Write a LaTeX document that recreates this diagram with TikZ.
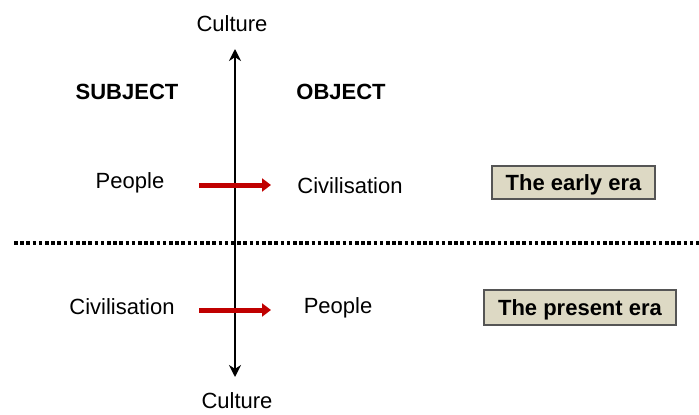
\documentclass[tikz,border=0pt]{standalone}
\usepackage{fontspec}
\setmainfont{Liberation Sans}
\usetikzlibrary{arrows.meta}
\definecolor{redarrow}{HTML}{C00000}
\definecolor{erafill}{HTML}{DDD9C4}
\definecolor{eradraw}{HTML}{555555}
\tikzset{
  lbl/.style={font=\fontsize{22}{26}\selectfont, inner sep=0pt, anchor=center},
  head/.style={font=\fontsize{22}{26}\selectfont\bfseries, inner sep=0pt},
  erabox/.style={draw=eradraw, line width=1.5pt, fill=erafill, font=\fontsize{22}{26}\selectfont\bfseries, text height=15.8pt, text depth=0pt, inner sep=0pt},
  redarr/.style={draw=redarrow, line width=5pt, -{Triangle[length=9pt,width=13pt]}},
  axis/.style={line width=2.5pt, {Stealth[length=12pt,width=12pt]}-{Stealth[length=12pt,width=12pt]}},
  dots/.style={line width=3.5pt, dash pattern=on 3.5pt off 2.7pt}
}
\begin{document}
\begin{tikzpicture}[x=1pt,y=-1pt]
\useasboundingbox (0,0) rectangle (699,415);
% vertical axis
\node[lbl] (ctop) at (232,24) {Culture};
\node[lbl] (cbot) at (237,401) {Culture};
\coordinate (atop) at (235,49);
\coordinate (abot) at (235,377);
\draw[axis] (atop) -- (abot);
% headings
\node[head] (subj) at (127,92) {SUBJECT};
\node[head] (obj) at (341,92) {OBJECT};
% early era row
\node[lbl] (p1) at (130,183) {People};
\node[lbl] (c1) at (350,186) {Civilisation};
\coordinate (r1s) at (199,185);
\coordinate (r1e) at (271,185);
\draw[redarr] (r1s) -- (r1e);
\node[erabox, minimum width=163pt, minimum height=33pt] (early) at (573.5,182.5) {The early era};
% divider
\coordinate (ds) at (14,243);
\coordinate (de) at (699,243);
\draw[dots] (ds) -- (de);
% present era row
\node[lbl] (c2) at (122,307) {Civilisation};
\node[lbl] (p2) at (338,308) {People};
\coordinate (r2s) at (199,310);
\coordinate (r2e) at (271,310);
\draw[redarr] (r2s) -- (r2e);
\node[erabox, minimum width=192pt, minimum height=35pt] (present) at (580,307.5) {The present era};
\end{tikzpicture}
\end{document}
